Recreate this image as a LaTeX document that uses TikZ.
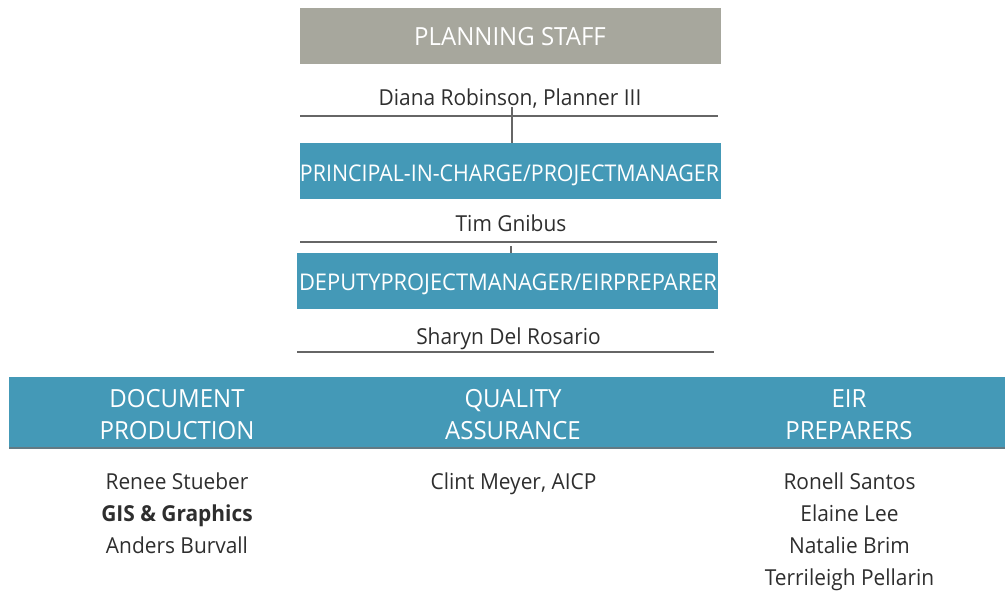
\documentclass[tikz,border=0pt]{standalone}
\usepackage{fontspec}
\setmainfont{Open Sans}
\newfontfamily\headfont[FakeStretch=0.96]{Open Sans}
\newfontfamily\namefont[FakeStretch=0.95]{Open Sans}
\usepackage{graphicx}
\definecolor{boxgray}{HTML}{A7A79D}
\definecolor{boxblue}{HTML}{4499B7}
\definecolor{txt}{HTML}{2E2E2E}
\definecolor{rulecol}{HTML}{666666}
\definecolor{bandedge}{HTML}{637A84}
\begin{document}
\begin{tikzpicture}[x=1pt,y=-1pt,
  rectbox/.style={inner sep=0pt, outer sep=0pt, draw=none},
  headtxt/.style={inner sep=0pt, outer sep=0pt, anchor=base, text=white, font=\headfont\fontsize{25}{25}\selectfont},
  fittxt/.style={inner sep=0pt, outer sep=0pt, anchor=base, text=white, font=\headfont\fontsize{23}{23}\selectfont},
  nametxt/.style={inner sep=0pt, outer sep=0pt, anchor=base, text=txt, font=\namefont\fontsize{22}{22}\selectfont},
  rulestyle/.style={draw=rulecol, line width=1.6pt},
  conn/.style={draw=rulecol, line width=1.6pt}
]
\useasboundingbox (0,0) rectangle (1005,606);

% Planning staff
\node[rectbox, fill=boxgray, minimum width=421pt, minimum height=56pt] (psbox) at (510.5,35.5) {};
\node[headtxt] (pstxt) at (510,45) {PLANNING STAFF};

% Diana Robinson
\node[nametxt] (diana) at (510,105) {Diana Robinson, Planner III};
\coordinate (r1a) at (300,115.7);
\coordinate (r1b) at (718,115.7);
\draw[rulestyle] (r1a) -- (r1b);

% Principal box
\node[rectbox, fill=boxblue, minimum width=421pt, minimum height=56pt] (pmbox) at (510.5,171) {};
\node[fittxt] (pmtxt) at (509.5,181) {\resizebox{419pt}{\height}{PRINCIPAL-IN-CHARGE/PROJECTMANAGER}};
\coordinate (c1) at (511.7,107);
\draw[conn] (c1) -- (c1 |- pmbox.north);

% Tim
\node[nametxt] (tim) at (511,231.7) {Tim Gnibus};
\coordinate (r2a) at (300,241.7);
\coordinate (r2b) at (717,241.7);
\draw[rulestyle] (r2a) -- (r2b);

% Deputy box
\node[rectbox, fill=boxblue, minimum width=421pt, minimum height=56pt] (dpbox) at (507.5,281) {};
\node[fittxt] (dptxt) at (508,290.5) {\resizebox{418pt}{\height}{DEPUTYPROJECTMANAGER/EIRPREPARER}};
\coordinate (c2) at (511,246);
\draw[conn] (c2) -- (c2 |- dpbox.north);

% Sharyn
\node[nametxt] (sharyn) at (508.5,344) {Sharyn Del Rosario};
\coordinate (r3a) at (297,351.7);
\coordinate (r3b) at (714,351.7);
\draw[rulestyle] (r3a) -- (r3b);

% Band
\node[rectbox, fill=boxblue, minimum width=996pt, minimum height=71pt] (band) at (507,412.7) {};
\draw[draw=bandedge, line width=2pt] (band.south west) -- (band.south east);

\node[headtxt] (h1a) at (177,407.3) {DOCUMENT};
\node[headtxt] (h1b) at (177,439) {PRODUCTION};
\node[headtxt] (h2a) at (513,407.3) {QUALITY};
\node[headtxt] (h2b) at (513,439) {ASSURANCE};
\node[headtxt] (h3a) at (849,407.3) {EIR};
\node[headtxt] (h3b) at (849,439) {PREPARERS};

% Names
\node[nametxt] (n11) at (177,489) {Renee Stueber};
\node[nametxt, font=\namefont\fontsize{22}{22}\selectfont\bfseries] (n12) at (177,521) {GIS \& Graphics};
\node[nametxt] (n13) at (177,553) {Anders Burvall};

\node[nametxt] (n21) at (513.5,489) {Clint Meyer, AICP};

\node[nametxt] (n31) at (849.5,489) {Ronell Santos};
\node[nametxt] (n32) at (849.5,521) {Elaine Lee};
\node[nametxt] (n33) at (849.5,553) {Natalie Brim};
\node[nametxt] (n34) at (849.5,585) {Terrileigh Pellarin};
\end{tikzpicture}
\end{document}
